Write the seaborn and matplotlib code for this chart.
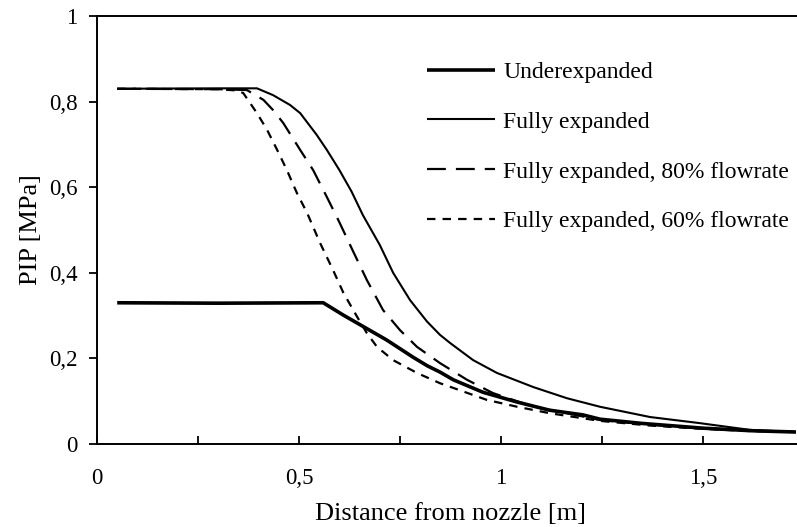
import numpy as np
import pandas as pd
import matplotlib
matplotlib.use("Agg")
import matplotlib.pyplot as plt
import seaborn as sns
from matplotlib.ticker import MultipleLocator, FixedLocator

# ---- data ----
x_under = [0.05, 0.30, 0.56, 0.61, 0.658, 0.717, 0.782, 0.817, 0.849, 0.882, 0.955, 1.04, 1.12, 1.203, 1.245, 1.35, 1.50, 1.62, 1.73]
y_under = [0.330, 0.329, 0.330, 0.301, 0.275, 0.243, 0.203, 0.183, 0.168, 0.150, 0.121, 0.098, 0.079, 0.068, 0.058, 0.048, 0.037, 0.031, 0.028]

x_full = [0.05, 0.30, 0.396, 0.436, 0.478, 0.503, 0.544, 0.569, 0.600, 0.630, 0.658, 0.700, 0.733, 0.775, 0.817, 0.849, 0.874, 0.931, 0.990, 1.08, 1.163, 1.245, 1.369, 1.49, 1.616, 1.73]
y_full = [0.830, 0.831, 0.831, 0.815, 0.792, 0.773, 0.722, 0.687, 0.640, 0.590, 0.535, 0.465, 0.400, 0.336, 0.286, 0.255, 0.236, 0.196, 0.166, 0.133, 0.107, 0.087, 0.063, 0.049, 0.033, 0.028]

x_80 = [0.05, 0.30, 0.371, 0.412, 0.436, 0.461, 0.503, 0.535, 0.569, 0.600, 0.634, 0.668, 0.708, 0.750, 0.792, 0.849, 0.916, 0.98, 1.08, 1.163, 1.245, 1.37, 1.50, 1.62, 1.73]
y_80 = [0.830, 0.829, 0.827, 0.804, 0.780, 0.750, 0.687, 0.640, 0.577, 0.518, 0.450, 0.383, 0.313, 0.266, 0.227, 0.189, 0.150, 0.119, 0.087, 0.072, 0.056, 0.045, 0.036, 0.031, 0.028]

x_60 = [0.05, 0.30, 0.345, 0.362, 0.396, 0.421, 0.446, 0.470, 0.495, 0.520, 0.552, 0.584, 0.610, 0.644, 0.668, 0.693, 0.733, 0.792, 0.849, 0.882, 0.965, 1.04, 1.12, 1.245, 1.37, 1.49, 1.62, 1.73]
y_60 = [0.830, 0.829, 0.826, 0.820, 0.773, 0.734, 0.687, 0.640, 0.586, 0.540, 0.470, 0.407, 0.353, 0.297, 0.259, 0.227, 0.196, 0.166, 0.142, 0.131, 0.103, 0.087, 0.072, 0.054, 0.043, 0.036, 0.030, 0.028]

series_names = ["Underexpanded", "Fully expanded",
                "Fully expanded, 80% flowrate", "Fully expanded, 60% flowrate"]
x_ticks = [0, 0.5, 1, 1.5]
x_tick_labels = ["0", "0,5", "1", "1,5"]
y_ticks = [0, 0.2, 0.4, 0.6, 0.8, 1.0]
y_tick_labels = ["0", "0,2", "0,4", "0,6", "0,8", "1"]

frames = []
for name, xs, ys in zip(series_names, [x_under, x_full, x_80, x_60], [y_under, y_full, y_80, y_60]):
    frames.append(pd.DataFrame({"x": xs, "y": ys, "series": name}))
df = pd.concat(frames, ignore_index=True)

sns.set_theme(style="white")
plt.rcParams["font.family"] = ["Liberation Serif", "DejaVu Serif"]
FS_TICK = 16.5
FS_LEG = 17
FS_LAB = 19

fig = plt.figure(figsize=(7.97, 5.27), dpi=100)
ax = fig.add_axes([97/797, 83/527, 707/797, 428/527])

styles = {
    "Underexpanded": dict(lw=2.6, dashes=None),
    "Fully expanded": dict(lw=1.5, dashes=None),
    "Fully expanded, 80% flowrate": dict(lw=1.6, dashes=(8.5, 4.5)),
    "Fully expanded, 60% flowrate": dict(lw=1.6, dashes=(3.8, 3.2)),
}
for name in series_names:
    sub = df[df["series"] == name]
    st = styles[name]
    sns.lineplot(data=sub, x="x", y="y", ax=ax, color="black",
                 lw=st["lw"], label=name, sort=False, estimator=None)
    l = ax.get_lines()[-1]
    if st["dashes"] is not None:
        l.set_dashes(st["dashes"])
    l.set_solid_capstyle("butt")
    l.set_dash_capstyle("butt")
    l.set_solid_joinstyle("round")

ax.set_xlim(0, 1.75)
ax.set_ylim(0, 1)
ax.xaxis.set_major_locator(FixedLocator(x_ticks))
ax.set_xticklabels(x_tick_labels)
ax.xaxis.set_minor_locator(MultipleLocator(0.25))
ax.yaxis.set_major_locator(FixedLocator(y_ticks))
ax.set_yticklabels(y_tick_labels)

ax.tick_params(axis="x", which="both", direction="in", length=6, width=1.3,
               bottom=True, top=False, labelsize=FS_TICK, pad=17, colors="black")
ax.tick_params(axis="y", which="major", direction="out", length=6, width=1.3,
               left=True, labelsize=FS_TICK, pad=8, colors="black")

for s in ["left", "bottom", "top", "right"]:
    ax.spines[s].set_color("black")
    ax.spines[s].set_linewidth(1.4)

ax.set_xlabel("Distance from nozzle [m]", fontsize=FS_LAB, color="black", labelpad=10)
ax.set_ylabel("PIP [MPa]", fontsize=FS_LAB, color="black", labelpad=5)

leg = ax.legend(loc="upper left", bbox_to_anchor=(0.467, 0.894), frameon=False,
                fontsize=FS_LEG, handlelength=2.88, handletextpad=0.34,
                labelspacing=1.2, borderpad=0, borderaxespad=0)
for t in leg.get_texts():
    t.set_color("black")

fig.savefig("out.png", dpi=100)
